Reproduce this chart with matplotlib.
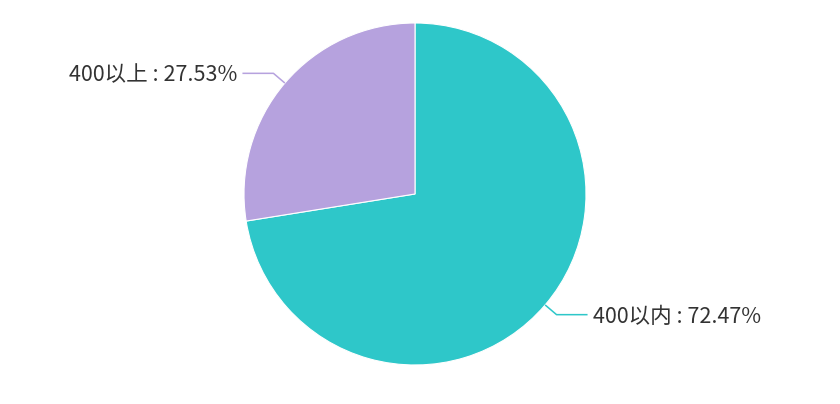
import numpy as np
import matplotlib.pyplot as plt

plt.rcParams['font.family'] = ['Noto Sans CJK SC', 'DejaVu Sans']

labels = ['400以内', '400以上']
values = [72.47, 27.53]
colors = ['#2ec7c9', '#b6a2de']

W, H = 840, 404
fig = plt.figure(figsize=(W / 100, H / 100), dpi=100)
ax = fig.add_axes([0, 0, 1, 1])

cx, cy, r = 415, H - 194, 171
ax.pie(values, colors=colors, startangle=90, counterclock=False,
       center=(cx, cy), radius=r,
       wedgeprops=dict(edgecolor='white', linewidth=0.8))
ax.set_xlim(0, W)
ax.set_ylim(0, H)
ax.set_aspect('equal')
ax.axis('off')

# label lines + labels
total = sum(values)
start = 90
for lab, v, c in zip(labels, values, colors):
    span = 360 * v / total
    mid = np.deg2rad(start - span / 2)
    start -= span
    x0 = cx + r * np.cos(mid)
    y0 = cy + r * np.sin(mid)
    x1 = cx + (r + 15) * np.cos(mid)
    y1 = cy + (r + 15) * np.sin(mid)
    side = 1 if np.cos(mid) > 0 else -1
    x2 = x1 + side * 31
    ax.plot([x0, x1, x2], [y0, y1, y1], color=c, lw=1.1,
            solid_capstyle='butt', solid_joinstyle='round')
    ax.text(x2 + side * 5, y1 - 2, '%s : %.2f%%' % (lab, v),
            ha='left' if side > 0 else 'right', va='center',
            fontsize=15.5, color='#333333')

fig.savefig('out.png', dpi=100)
